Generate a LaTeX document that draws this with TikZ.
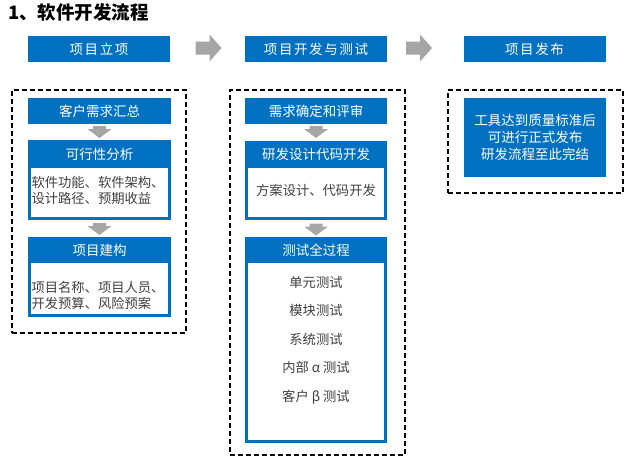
\documentclass[tikz,border=0pt]{standalone}
\usepackage{fontspec}
\setmainfont{Liberation Sans}
\newfontfamily\cjk{Noto Sans CJK SC}
\definecolor{hblue}{HTML}{0070C0}
\definecolor{agray}{HTML}{A6A6A6}
\definecolor{txtgray}{HTML}{404040}
\newcommand\rgtarrow[1]{\fill[agray, shift={(#1)}] (-13,-6.5) -- (1,-6.5) -- (1,-13.5) -- (13,0) -- (1,13.5) -- (1,6.5) -- (-13,6.5) -- cycle;}
\newcommand\dwnarrow[1]{\fill[agray, shift={(#1)}] (-6.5,-6) -- (6.5,-6) -- (6.5,-3) -- (12,-3) -- (0,6) -- (-12,-3) -- (-6.5,-3) -- cycle;}
\begin{document}
\begin{tikzpicture}[x=1pt,y=-1pt,
  hdr/.style={fill=hblue, text=white, inner sep=0pt, minimum width=142pt, minimum height=26pt,
    font=\cjk\fontsize{13.5}{16}\selectfont\addfontfeature{LetterSpace=12}},
  bluebox/.style={fill=hblue, text=white, inner sep=0pt, minimum width=143pt, minimum height=26pt,
    font=\cjk\fontsize{13.5}{16}\selectfont},
  panel/.style={fill=hblue, inner sep=0pt, minimum width=143pt},
  inner/.style={fill=white, inner sep=0pt, minimum width=137pt},
  ptitle/.style={text=white, inner sep=0pt, font=\cjk\fontsize{13.5}{16}\selectfont},
  body/.style={text=txtgray, inner sep=0pt, font=\cjk\fontsize{13.3}{16}\selectfont},
  dashbox/.style={draw=black, line width=1.8pt, dash pattern=on 5pt off 3pt},
]
\useasboundingbox (0,0) rectangle (637,471);

% title
\node[anchor=west, inner sep=0pt, font=\cjk\bfseries\fontsize{18.5}{22}\selectfont] (title) at (8,12) {1、软件开发流程};

% stage headers
\node[hdr] (s1) at (99,49) {项目立项};
\node[hdr] (s2) at (316,49) {项目开发与测试};
\node[hdr] (s3) at (534.5,49) {项目发布};
\rgtarrow{208.5,48}
\rgtarrow{419,48}

% dashed frames
\node[dashbox, minimum width=174pt, minimum height=243pt, inner sep=0pt] (f1) at (99,211.5) {};
\node[dashbox, minimum width=175pt, minimum height=365pt, inner sep=0pt] (f2) at (317.5,272.5) {};
\node[dashbox, minimum width=175pt, minimum height=103pt, inner sep=0pt] (f3) at (535.5,141.5) {};

% left column
\node[bluebox] (a1) at (99.5,111) {客户需求汇总};
\dwnarrow{99.5,132}
\node[panel, minimum height=80pt] (a2) at (99.5,180) {};
\node[inner, minimum height=49pt] (a2i) at (99.5,192.5) {};
\node[ptitle] (a2t) at (99.5,154) {可行性分析};
\node[body, align=left] (a2b) at (98,190) {软件功能、软件架构、\\设计路径、预期收益};
\dwnarrow{99.5,229}
\node[panel, minimum height=80pt] (a3) at (99.5,277) {};
\node[inner, minimum height=51pt] (a3i) at (99.5,288.5) {};
\node[ptitle] (a3t) at (99.5,250) {项目建构};
\node[body, align=left] (a3b) at (98,295) {项目名称、项目人员、\\开发预算、风险预案};

% middle column
\node[bluebox, minimum width=142pt] (b1) at (316,111) {需求确定和评审};
\dwnarrow{316,132}
\node[panel, minimum width=142pt, minimum height=79pt] (b2) at (316,180.5) {};
\node[inner, minimum width=136pt, minimum height=49pt] (b2i) at (316,192.5) {};
\node[ptitle] (b2t) at (316,154.5) {研发设计代码开发};
\node[body] (b2b) at (316,190) {方案设计、代码开发};
\dwnarrow{316,229.5}
\node[panel, minimum width=142pt, minimum height=206pt] (b3) at (316,340) {};
\node[inner, minimum width=136pt, minimum height=177pt] (b3i) at (316,351.5) {};
\node[ptitle] (b3t) at (316,250) {测试全过程};
\node[body, align=center, font=\cjk\fontsize{13.3}{28.5}\selectfont] (b3b) at (316,340) {单元测试\\模块测试\\系统测试\\内部 α 测试\\客户 β 测试};

% right column
\node[bluebox, minimum width=142pt, minimum height=79pt, align=center,
  font=\cjk\fontsize{13.5}{17}\selectfont] (c1) at (535,137.5) {工具达到质量标准后\\可进行正式发布\\研发流程至此完结};
\end{tikzpicture}
\end{document}
